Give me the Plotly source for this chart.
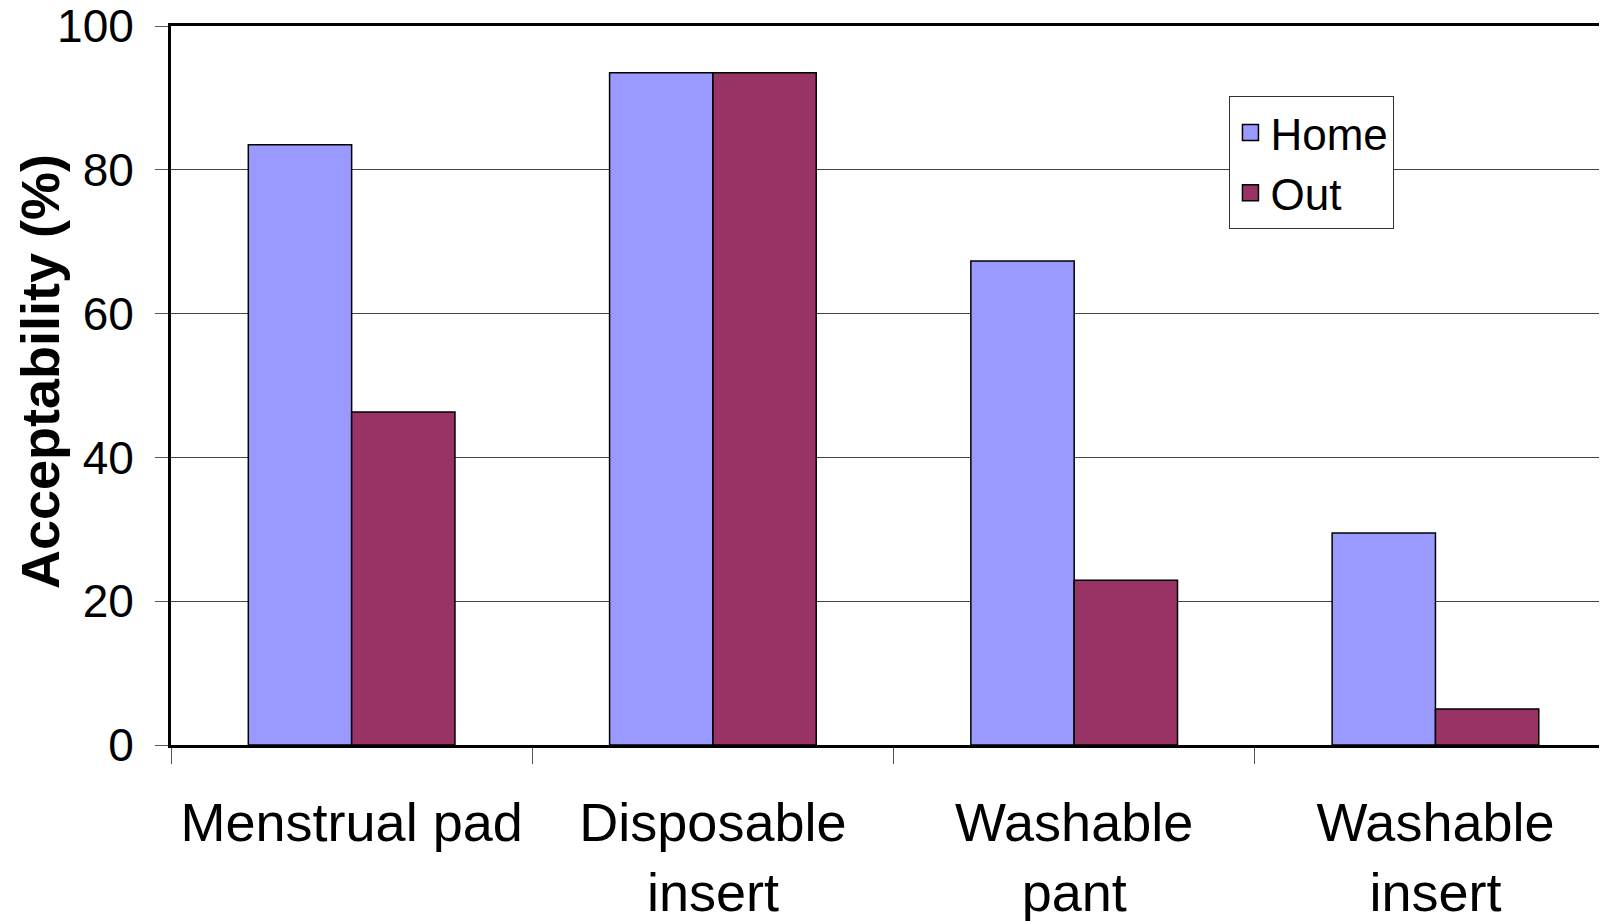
import plotly.graph_objects as go

categories = ["Menstrual pad", "Disposable<br>insert", "Washable<br>pant", "Washable<br>insert"]
home = [83.5, 93.5, 67.3, 29.5]
out = [46.3, 93.5, 22.9, 5.0]
y_ticks = [0, 20, 40, 60, 80, 100]

FONT = "Liberation Sans, Arial, sans-serif"
HOME_C = "#9999FF"
OUT_C = "#993366"

fig = go.Figure()
fig.add_trace(go.Bar(x=categories, y=home, name="Home", showlegend=False,
                     marker=dict(color=HOME_C, line=dict(color="black", width=1.5))))
fig.add_trace(go.Bar(x=categories, y=out, name="Out", showlegend=False,
                     marker=dict(color=OUT_C, line=dict(color="black", width=1.5))))
# legend-only entries with square swatches
for name, col in [("Home", HOME_C), ("Out", OUT_C)]:
    fig.add_trace(go.Scatter(x=[None], y=[None], mode="markers", name=name,
                             marker=dict(symbol="square", size=24, color=col,
                                         line=dict(color="black", width=1.5))))

fig.update_layout(
    width=1607, height=921,
    margin=dict(l=163, r=0, t=18, b=184),
    paper_bgcolor="white", plot_bgcolor="white",
    barmode="group", bargap=0.428, bargroupgap=0,
    font=dict(family=FONT, color="black"),
    showlegend=True,
    legend=dict(x=0.733, y=0.902, xanchor="left", yanchor="top",
                bgcolor="white", bordercolor="#333333", borderwidth=1,
                font=dict(size=44, family=FONT), tracegroupgap=0,
                itemsizing="trace"),
    annotations=[dict(text="<b>Acceptability (%)</b>", xref="paper", yref="paper",
                      x=-0.0906, y=0.519, xanchor="center", yanchor="middle",
                      textangle=-90, showarrow=False,
                      font=dict(size=54, family=FONT, color="black"))],
)
fig.update_xaxes(
    type="category", range=[-0.5, 3.497], automargin=False,
    showline=True, linecolor="black", linewidth=3, mirror=True,
    ticks="outside", tickson="boundaries", ticklen=16, tickcolor="#555555", tickwidth=1,
    tickfont=dict(size=54, family=FONT), showgrid=False, ticklabelstandoff=28,
)
fig.update_yaxes(
    range=[0, 100], tickvals=y_ticks, automargin=False,
    showline=True, linecolor="black", linewidth=3,
    ticks="outside", ticklen=13, tickcolor="#555555", tickwidth=1,
    tickfont=dict(size=46, family=FONT), ticklabelstandoff=12,
    ticklabeloverflow="allow",
    showgrid=True, gridcolor="#444444", gridwidth=1,
    zeroline=False,
)

fig.write_html("out.html")
